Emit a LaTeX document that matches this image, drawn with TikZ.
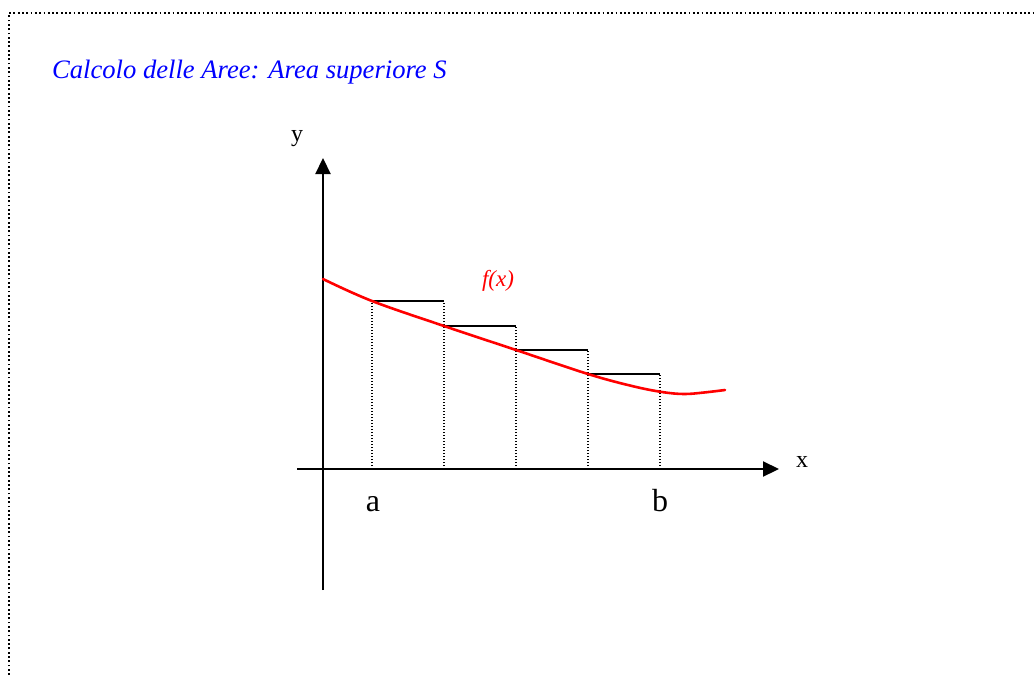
\documentclass[tikz,border=0pt]{standalone}
\usepackage{fontspec}
\setmainfont{Liberation Serif}
\usetikzlibrary{arrows.meta}
\definecolor{titleblue}{RGB}{0,0,255}
\definecolor{curvered}{RGB}{255,0,0}
\tikzset{
  axis/.style={line width=2.2pt,-{Triangle[length=16pt,width=15pt]}},
  steptop/.style={line width=1.8pt,black},
  dotline/.style={line width=1.6pt,dash pattern=on 1.5pt off 1.5pt},
  frame/.style={line width=1.6pt,dash pattern=on 1.8pt off 2.5pt},
  curve/.style={line width=2.6pt,curvered,line cap=round},
  lbl/.style={inner sep=0pt,anchor=base}
}
\begin{document}
\begin{tikzpicture}[x=1pt,y=-1pt]
\useasboundingbox (0,0) rectangle (1034,675);
% frame
\coordinate (fTL) at (9,13);
\coordinate (fTR) at (1034,13);
\coordinate (fBL) at (9,675);
\draw[frame] (fBL) -- (fTL) -- (fTR);
% title
\node[lbl,anchor=base west,text=titleblue,font=\fontsize{26.6}{30}\selectfont\itshape] (title) at (52,78) {Calcolo delle Aree: Area superiore S};
% axes
\coordinate (yb) at (323,590);
\coordinate (yt) at (323,158);
\coordinate (xl) at (297,469);
\coordinate (xr) at (779,469);
\draw[axis] (yb) -- (yt);
\draw[axis] (xl) -- (xr);
\node[lbl,font=\fontsize{24}{26}\selectfont] (ylab) at (297,141) {y};
\node[lbl,font=\fontsize{24}{26}\selectfont] (xlab) at (802,467) {x};
% partition points
\foreach \n/\x in {p0/372,p1/444,p2/516,p3/588,p4/660}{
  \coordinate (\n) at (\x,469);
}
\coordinate (t0) at (372,301);
\coordinate (t1) at (444,326);
\coordinate (t2) at (516,350);
\coordinate (t3) at (588,374);
\coordinate (t4) at (660,374);
\coordinate (s1) at (444,301);
\coordinate (s2) at (516,326);
\coordinate (s3) at (588,350);
% dotted verticals
\draw[dotline] (p0) -- (t0);
\draw[dotline] (p1) -- (s1);
\draw[dotline] (p2) -- (s2);
\draw[dotline] (p3) -- (s3);
\draw[dotline] (p4) -- (t4);
% step tops
\draw[steptop] (t0) -- (s1);
\draw[steptop] (t1) -- (s2);
\draw[steptop] (t2) -- (s3);
\draw[steptop] (t3) -- (t4);
% curve
\draw[curve] plot[smooth,tension=0.6] coordinates {(323,279) (372,301) (444,326) (516,350) (588,374) (632,386) (662,392) (684,394) (704,392.5) (725,390)};
\node[lbl,text=curvered,font=\fontsize{23}{26}\selectfont\itshape] (fx) at (498,286) {f(x)};
% labels a, b
\node[lbl,font=\fontsize{32}{35}\selectfont] (la) at (373,511) {a};
\node[lbl,font=\fontsize{32}{35}\selectfont] (lb) at (660,511) {b};
\end{tikzpicture}
\end{document}
